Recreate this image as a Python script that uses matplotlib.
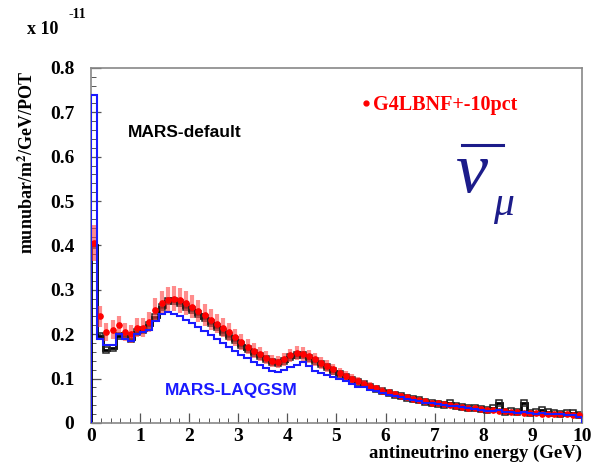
import numpy as np
import matplotlib
import matplotlib.pyplot as plt
from matplotlib.lines import Line2D
from matplotlib.ticker import MultipleLocator

matplotlib.use("Agg")
plt.rcParams["mathtext.fontset"] = "stix"

# bin layout: 80 bins of 0.125 GeV from 0 to 10 GeV
bin_width = 0.125
n_bins = 80

# flux values in units of 1e-11 munubar/m^2/GeV/POT
mars_laqgsm = [
    0.74, 0.19, 0.175, 0.175, 0.20, 0.19, 0.185, 0.20,
    0.205, 0.21, 0.23, 0.245, 0.25, 0.246, 0.24, 0.233,
    0.225, 0.216, 0.207, 0.198, 0.19, 0.181, 0.172, 0.163,
    0.154, 0.146, 0.138, 0.131, 0.124, 0.118, 0.114, 0.12,
    0.125, 0.13, 0.138, 0.128, 0.118, 0.112, 0.108, 0.104,
    0.099, 0.094, 0.087, 0.082, 0.08, 0.074, 0.071, 0.068,
    0.062, 0.06, 0.058, 0.055, 0.052, 0.049, 0.045, 0.044,
    0.042, 0.04, 0.039, 0.037, 0.035, 0.033, 0.032, 0.03,
    0.027, 0.027, 0.028, 0.025, 0.024, 0.023, 0.025, 0.022,
    0.021, 0.022, 0.02, 0.019, 0.019, 0.018, 0.018, 0.014,
]

mars_default = [
    0.40, 0.195, 0.165, 0.168, 0.195, 0.195, 0.19, 0.205,
    0.21, 0.22, 0.238, 0.262, 0.275, 0.275, 0.27, 0.262,
    0.255, 0.245, 0.236, 0.226, 0.216, 0.206, 0.196, 0.186,
    0.176, 0.166, 0.158, 0.15, 0.143, 0.138, 0.136, 0.14,
    0.148, 0.153, 0.152, 0.147, 0.14, 0.132, 0.125, 0.118,
    0.11, 0.104, 0.097, 0.092, 0.087, 0.082, 0.077, 0.072,
    0.068, 0.064, 0.06, 0.057, 0.054, 0.051, 0.048, 0.046,
    0.043, 0.041, 0.045, 0.038, 0.036, 0.034, 0.033, 0.031,
    0.03, 0.033, 0.045, 0.024, 0.026, 0.025, 0.046, 0.022,
    0.025, 0.03, 0.024, 0.023, 0.02, 0.022, 0.022, 0.018,
]

g4lbnf = [
    0.405, 0.24, 0.205, 0.21, 0.22, 0.205, 0.2, 0.215,
    0.215, 0.228, 0.255, 0.27, 0.278, 0.28, 0.276, 0.27,
    0.262, 0.252, 0.243, 0.233, 0.224, 0.214, 0.204, 0.193,
    0.182, 0.172, 0.163, 0.155, 0.147, 0.14, 0.138, 0.143,
    0.152, 0.157, 0.156, 0.15, 0.143, 0.136, 0.128, 0.121,
    0.113, 0.106, 0.1, 0.094, 0.088, 0.083, 0.078, 0.073,
    0.069, 0.065, 0.061, 0.058, 0.055, 0.052, 0.049, 0.046,
    0.044, 0.042, 0.04, 0.038, 0.036, 0.034, 0.033, 0.031,
    0.03, 0.028, 0.027, 0.026, 0.025, 0.024, 0.023, 0.022,
    0.022, 0.021, 0.02, 0.02, 0.019, 0.019, 0.018, 0.017,
]
g4_rel_err = 0.10

edges = np.arange(n_bins + 1) * bin_width
centers = edges[:-1] + bin_width / 2

serif = "Liberation Serif"
sans = "Liberation Sans"
blue = "#1a1aff"
navy = "#1c1c8a"

fig = plt.figure(figsize=(5.95, 4.72), dpi=100)
ax = fig.add_axes([0.153, 0.104, 0.825, 0.752])

# MARS-default: black histogram with open squares
ax.stairs(mars_default, edges, color="black", linewidth=2.0, zorder=2)
ax.plot(centers, mars_default, ls="none", marker="s", ms=4.5, mfc="none",
        mec="#222222", mew=1.1, zorder=2)

# G4LBNF +-10%: red points with error bars
g4 = np.array(g4lbnf)
ax.errorbar(centers, g4, yerr=g4 * g4_rel_err, fmt="none", ecolor="#ff4040",
            elinewidth=3, alpha=0.6, zorder=3)
ax.plot(centers, g4, ls="none", marker="o", ms=3.8, color="red", zorder=3)

# MARS-LAQGSM: blue histogram
ax.stairs(mars_laqgsm, edges, color=blue, linewidth=1.5, zorder=4)

ax.set_xlim(0, 10)
ax.set_ylim(0, 0.8)
ax.xaxis.set_major_locator(MultipleLocator(1))
ax.xaxis.set_minor_locator(MultipleLocator(0.2))
ax.yaxis.set_major_locator(MultipleLocator(0.1))
ax.yaxis.set_minor_locator(MultipleLocator(0.02))
ax.tick_params(which="both", direction="in", top=False, right=False,
               color="#555555")
ax.tick_params(which="major", length=7, width=0.9)
ax.tick_params(which="minor", length=3.5, width=0.7)
ax.tick_params(axis="both", labelsize=14)
ax.tick_params(axis="y", pad=12)
ax.tick_params(axis="x", pad=4)
ax.set_xticklabels([f"{int(v)}" for v in ax.get_xticks()])
ax.set_yticklabels(["0" if v == 0 else f"{v:.1f}" for v in ax.get_yticks()])
for lab in ax.get_xticklabels() + ax.get_yticklabels():
    lab.set_fontfamily(serif)
    lab.set_fontweight("bold")
for s in ax.spines.values():
    s.set_color("#888888")
    s.set_linewidth(1.2)

# axis titles
fig.text(0.978, 0.022, "antineutrino energy (GeV)", ha="right", va="bottom",
         fontsize=13.5, fontfamily=serif, fontweight="bold")
fig.text(0.046, 0.85, r"munubar/m$^{\mathbf{2}}$/GeV/POT", rotation=90,
         ha="center", va="top", fontsize=13, fontfamily=serif,
         fontweight="bold")
fig.text(0.045, 0.928, "x 10", ha="left", va="baseline", fontsize=13,
         fontfamily=serif, fontweight="bold")
fig.text(0.115, 0.962, "-11", ha="left", va="baseline", fontsize=10,
         fontfamily=serif, fontweight="bold")

# annotations
ax.text(0.75, 0.645, "MARS-default", fontsize=12.5, fontfamily=sans,
        fontweight="bold", color="black")
ax.text(1.5, 0.062, "MARS-LAQGSM", fontsize=12.5, fontfamily=sans,
        fontweight="bold", color=blue)
ax.plot([5.6], [0.72], marker="o", ms=3.5, color="red", ls="none")
ax.text(5.75, 0.705, "G4LBNF+-10pct", fontsize=14.5, fontfamily=serif,
        fontweight="bold", color="red")

# antineutrino symbol
fig.text(0.765, 0.593, "ν", fontsize=52, fontfamily=serif, style="italic",
         color=navy, ha="left", va="baseline")
fig.text(0.829, 0.544, "μ", fontsize=30, fontfamily=serif, style="italic",
         color=navy, ha="left", va="baseline")
fig.add_artist(Line2D([0.776, 0.845], [0.693, 0.693], color=navy,
                      linewidth=2.2, transform=fig.transFigure))

plt.savefig("out.png", dpi=100)
plt.close()
